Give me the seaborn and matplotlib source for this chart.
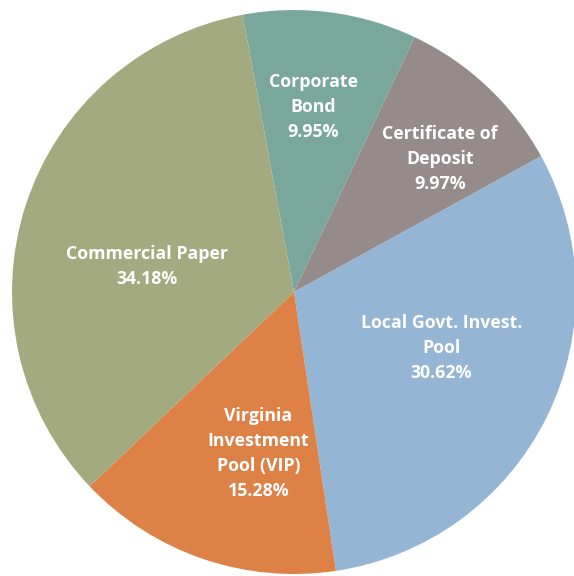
import numpy as np
import matplotlib
matplotlib.use("Agg")
import matplotlib.pyplot as plt
import seaborn as sns

categories = ["Corporate\nBond", "Certificate of\nDeposit", "Local Govt. Invest.\nPool",
              "Virginia\nInvestment\nPool (VIP)", "Commercial Paper"]
values = [9.95, 9.97, 30.62, 15.28, 34.18]
colors = ["#7AA79C", "#968B8B", "#94B5D3", "#DD8147", "#A4AA7F"]
label_dist = [0.66, 0.70, 0.56, 0.585, 0.53]
label_rot = [1.5, -4.5, 5.5, 6.5, 8.0]

sns.set_theme(style="white")
plt.rcParams['font.family'] = ['Open Sans', 'DejaVu Sans']

fig = plt.figure(figsize=(5.74, 5.76), dpi=100)
ax = fig.add_axes([0, 0, 1, 1])
wedges, _ = ax.pie(values, colors=colors, startangle=100.5, counterclock=False,
                   radius=1.0, center=(0, 0), wedgeprops=dict(linewidth=0))
for w, lab, v, d, r in zip(wedges, categories, values, label_dist, label_rot):
    ang = np.deg2rad((w.theta1 + w.theta2) / 2 + r)
    ax.text(d * np.cos(ang), d * np.sin(ang), f"{lab}\n{v:.2f}%", ha="center", va="center",
            color="white", fontsize=12.8, fontweight="bold", linespacing=1.5)
ax.set_xlim(-1.0426, 0.993)
ax.set_ylim(-1.007, 1.0355)
ax.set_aspect("equal")
ax.axis("off")
fig.savefig("out.png", dpi=100)
